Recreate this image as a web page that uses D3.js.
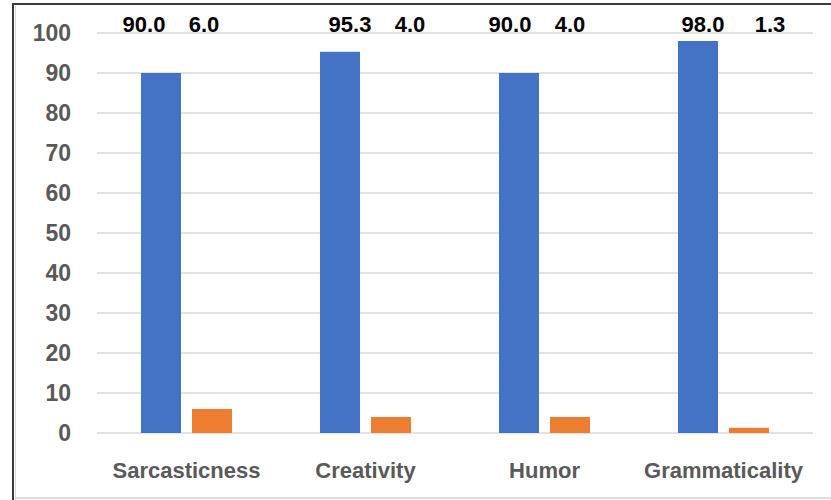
<!DOCTYPE html>
<html>
<head>
<meta charset="utf-8">
<script src="https://cdn.jsdelivr.net/npm/d3@7"></script>
<style>
  html, body { margin: 0; padding: 0; background: #fff; }
  svg { display: block; }
  text { font-family: "Liberation Sans", Arial, sans-serif; font-weight: bold; }
</style>
</head>
<body>
<svg id="chart" width="831" height="500"></svg>
<script>
// Share of responses per criterion (percent)
const categories = ["Sarcasticness", "Creativity", "Humor", "Grammaticality"];
const seriesNames = ["yes", "no"];
const yesValues = [90.0, 95.3, 90.0, 98.0];
const noValues = [6.0, 4.0, 4.0, 1.3];
const yTicks = [0, 10, 20, 30, 40, 50, 60, 70, 80, 90, 100];

const colors = { yes: "#4472C4", no: "#ED7D31" };
// horizontal nudges of the value labels relative to their bars (px)
const labelNudge = { yes: [-17, 10, -9, 5], no: [-8, 19, 0, 21] };

const svg = d3.select("#chart");
const W = 831, H = 500;

// frame
svg.append("line").attr("x1", 12).attr("x2", W).attr("y1", 4).attr("y2", 4)
  .attr("stroke", "#3a3a3a").attr("stroke-width", 2);
svg.append("line").attr("x1", 13).attr("x2", 13).attr("y1", 3).attr("y2", H)
  .attr("stroke", "#3a3a3a").attr("stroke-width", 2);
svg.append("line").attr("x1", 15.5).attr("x2", 15.5).attr("y1", 6).attr("y2", H)
  .attr("stroke", "#d8d8d8").attr("stroke-width", 1);
svg.append("line").attr("x1", 15).attr("x2", W).attr("y1", 498).attr("y2", 498)
  .attr("stroke", "#d0d0d0").attr("stroke-width", 1.5);

const plot = { left: 97, right: 813, top: 33, bottom: 433 };

const y = d3.scaleLinear().domain([0, 100]).range([plot.bottom, plot.top]);
const x0 = d3.scaleBand().domain(categories).range([plot.left, plot.right])
  .paddingInner(0.4916).paddingOuter(0.2458);
const x1 = d3.scaleBand().domain(seriesNames).range([0, x0.bandwidth()])
  .paddingInner(0.216);

// gridlines
svg.append("g").selectAll("line").data(yTicks).join("line")
  .attr("x1", plot.left).attr("x2", plot.right)
  .attr("y1", d => y(d)).attr("y2", d => y(d))
  .attr("stroke", "#d9d9d9").attr("stroke-width", 1.6);

// y axis labels
const yAxis = d3.axisLeft(y).tickValues(yTicks).tickSize(0).tickPadding(0);
const gy = svg.append("g").attr("transform", "translate(71,0)").call(yAxis);
gy.select(".domain").remove();
gy.selectAll("text").attr("fill", "#595959").attr("font-size", 23)
  .style("font-family", "'Liberation Sans', Arial, sans-serif").style("font-weight", "bold");

// x axis labels
const xAxis = d3.axisBottom(x0).tickSize(0).tickPadding(0);
const gx = svg.append("g").attr("transform", "translate(0,462)").call(xAxis);
gx.select(".domain").remove();
gx.selectAll("text").attr("fill", "#595959").attr("font-size", 22)
  .style("font-family", "'Liberation Sans', Arial, sans-serif").style("font-weight", "bold");

const rows = categories.map((c, i) => ({
  cat: c, i,
  vals: [{ key: "yes", v: yesValues[i] }, { key: "no", v: noValues[i] }]
}));

const groups = svg.append("g").selectAll("g").data(rows).join("g")
  .attr("transform", d => `translate(${x0(d.cat)},0)`);

groups.selectAll("rect").data(d => d.vals).join("rect")
  .attr("x", d => x1(d.key))
  .attr("width", x1.bandwidth())
  .attr("y", d => y(d.v))
  .attr("height", d => y(0) - y(d.v))
  .attr("fill", d => colors[d.key]);

// value labels in a row above the plot
groups.selectAll("text.val").data(d => d.vals.map(v => ({ ...v, i: d.i }))).join("text")
  .attr("class", "val")
  .attr("x", d => x1(d.key) + x1.bandwidth() / 2 + labelNudge[d.key][d.i])
  .attr("y", 32)
  .attr("text-anchor", "middle")
  .attr("font-size", 22)
  .attr("fill", "#000")
  .text(d => d.v.toFixed(1));
</script>
</body>
</html>
